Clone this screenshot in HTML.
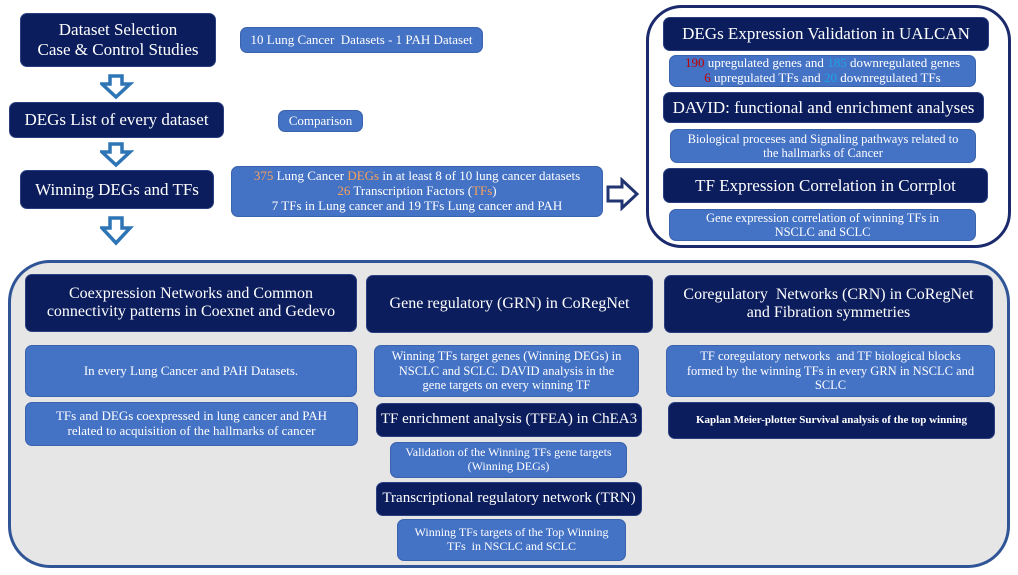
<!DOCTYPE html>
<html><head><meta charset="utf-8"><style>
body{margin:0;width:1018px;height:575px;background:#fff;position:relative;overflow:hidden;font-family:"Liberation Serif",serif;}
.b{position:absolute;box-sizing:border-box;display:flex;align-items:center;justify-content:center;text-align:center;color:#fff;border-radius:7px;line-height:1.15;}
.d{background:#0b1d5c;font-size:16px;border:1px solid #2a3f80;}
.l{background:#4472c4;font-size:12.5px;border:1px solid #3a63ad;}
.o{color:#f6a25b}.r{color:#c00000}.c{color:#1fa3e8}
svg{position:absolute}
</style></head><body>
<div class="b d" style="left:20px;top:13px;width:196px;height:54px;font-size:17px">Dataset Selection<br>Case &amp; Control Studies</div>
<div class="b d" style="left:9px;top:102px;width:215px;height:36px;font-size:17px">DEGs List of every dataset</div>
<div class="b d" style="left:20px;top:170px;width:194px;height:39px;font-size:17px">Winning DEGs and TFs</div>
<svg style="left:100px;top:74px" width="34" height="175">
<g fill="#fff" stroke="#2e75b6" stroke-width="3.5">
<path d="M10,2 H22 V10 H30 L16,23 L2,10 H10 Z"/>
<path d="M10,70 H22 V78 H30 L16,91 L2,78 H10 Z"/>
<path d="M10,144 H22 V154 H30 L16,169 L2,154 H10 Z"/>
</g></svg>
<div class="b l" style="left:240px;top:27px;width:243px;height:26px;font-size:13px">10 Lung Cancer&nbsp; Datasets - 1 PAH Dataset</div>
<div class="b l" style="left:278px;top:110px;width:85px;height:22px;font-size:13px">Comparison</div>
<div class="b l" style="left:231px;top:166px;width:372px;height:51px;font-size:13px"><div><span class="o">375</span> Lung Cancer <span class="o">DEGs</span> in at least 8 of 10 lung cancer datasets<br><span class="o">26</span> Transcription Factors (<span class="o">TFs</span>)<br>7 TFs in Lung cancer and 19 TFs Lung cancer and PAH</div></div>
<svg style="left:605px;top:177px" width="36" height="34"><path d="M3,10 H17 V3 L32,17 L17,31 V24 H3 Z" fill="#fff" stroke="#1f3470" stroke-width="3"/></svg>

<div style="position:absolute;left:646px;top:5px;width:365px;height:243px;box-sizing:border-box;border:3px solid #1a2a6c;border-radius:36px"></div>
<div class="b d" style="left:663px;top:17px;width:326px;height:34px;font-size:17px">DEGs Expression Validation in UALCAN</div>
<div class="b l" style="left:669px;top:55px;width:307px;height:32px;font-size:13px"><div><span class="r">190</span> upregulated genes and <span class="c">185</span> downregulated genes<br><span class="r">6</span> upregulated TFs and <span class="c">20</span> downregulated TFs</div></div>
<div class="b d" style="left:663px;top:92px;width:321px;height:31px;font-size:17px">DAVID: functional and enrichment analyses</div>
<div class="b l" style="left:670px;top:129px;width:306px;height:34px;font-size:12.5px">Biological proceses and Signaling pathways related to<br>the hallmarks of Cancer</div>
<div class="b d" style="left:663px;top:168px;width:325px;height:35px;font-size:17px">TF Expression Correlation in Corrplot</div>
<div class="b l" style="left:669px;top:209px;width:307px;height:32px;font-size:12.5px">Gene expression correlation of winning TFs in<br>NSCLC and SCLC</div>

<div style="position:absolute;left:8px;top:260px;width:1002px;height:308px;box-sizing:border-box;background:#e6e6e6;border:3px solid #2f5597;border-radius:42px"></div>
<div class="b d" style="left:25px;top:274px;width:332px;height:58px">Coexpression Networks and Common<br>connectivity patterns in Coexnet and Gedevo</div>
<div class="b l" style="left:25px;top:345px;width:332px;height:52px;font-size:13px">In every Lung Cancer and PAH Datasets.</div>
<div class="b l" style="left:25px;top:402px;width:333px;height:44px;font-size:13px">TFs and DEGs coexpressed in lung cancer and PAH<br>related to acquisition of the hallmarks of cancer</div>

<div class="b d" style="left:366px;top:275px;width:287px;height:58px">Gene regulatory (GRN) in CoRegNet</div>
<div class="b l" style="left:374px;top:345px;width:265px;height:52px;font-size:12.5px">Winning TFs target genes (Winning DEGs) in<br>NSCLC and SCLC. DAVID analysis in the<br>gene targets on every winning TF</div>
<div class="b d" style="left:376px;top:403px;width:266px;height:34px;font-size:15px">TF enrichment analysis (TFEA) in ChEA3</div>
<div class="b l" style="left:390px;top:442px;width:237px;height:36px;font-size:12px">Validation of the Winning TFs gene targets<br>(Winning DEGs)</div>
<div class="b d" style="left:376px;top:482px;width:266px;height:34px;font-size:15px">Transcriptional regulatory network (TRN)</div>
<div class="b l" style="left:397px;top:519px;width:229px;height:42px;font-size:12px">Winning TFs targets of the Top Winning<br>TFs&nbsp; in NSCLC and SCLC</div>

<div class="b d" style="left:664px;top:275px;width:329px;height:58px">Coregulatory&nbsp; Networks (CRN) in CoRegNet<br>and Fibration symmetries</div>
<div class="b l" style="left:666px;top:345px;width:329px;height:52px;font-size:12.5px">TF coregulatory networks&nbsp; and TF biological blocks<br>formed by the winning TFs in every GRN in NSCLC and<br>SCLC</div>
<div class="b d" style="left:668px;top:402px;width:327px;height:37px;font-size:11px;font-weight:bold">Kaplan Meier-plotter Survival analysis of the top winning</div>
</body></html>
